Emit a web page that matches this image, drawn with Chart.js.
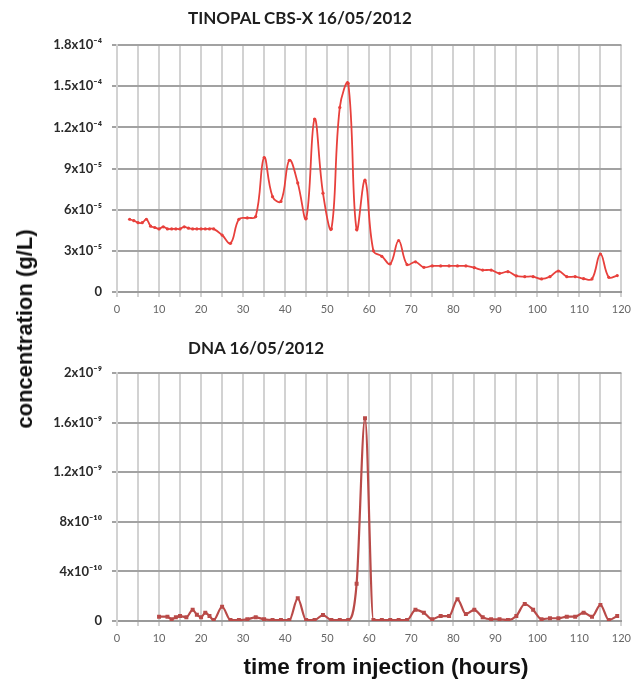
<!DOCTYPE html>
<html><head><meta charset="utf-8">
<script src="https://cdn.jsdelivr.net/npm/chart.js@4.4.1/dist/chart.umd.min.js"></script>
<style>
html,body{margin:0;padding:0;background:#fff;}
#wrap{position:relative;width:637px;height:686px;overflow:hidden;font-family:Lato,"Open Sans",sans-serif;}
canvas{position:absolute;left:0;}
.t{position:absolute;font-weight:bold;color:#1e1e1e;white-space:nowrap;line-height:1;}
.ax{font-family:"Liberation Sans",Arial,sans-serif;color:#111;}
</style></head><body>
<div id="wrap">
<canvas id="c1" width="637" height="330" style="top:0;width:637px;height:330px"></canvas>
<canvas id="c2" width="637" height="356" style="top:330px;width:637px;height:356px"></canvas>
<div class="t" style="left:188px;top:9px;font-size:17px">TINOPAL CBS-X 16/05/2012</div>
<div class="t" style="left:188px;top:339px;font-size:17px">DNA 16/05/2012</div>
<div class="t ax" style="font-size:22px;left:25px;top:329px;transform:translate(-50%,-50%) rotate(-90deg);">concentration (g/L)</div>
<div class="t ax" style="font-size:22.5px;left:386px;top:667px;transform:translate(-50%,-50%);">time from injection (hours)</div>
</div>
<script>
// time from injection (hours)
const tinopalHours = [3,4,5,6,7,8,9,10,11,12,13,14,15,16,17,18,19,20,21,22,23,
  25,27,29,31,33,35,37,39,41,43,45,47,49,51,53,55,57,59,61,63,65,67,69,71,73,75,77,79,
  81,83,85,87,89,91,93,95,97,99,101,103,105,107,109,111,113,115,117,119];
// TINOPAL CBS-X concentration, in units of 1e-5 g/L
const tinopalConc = [5.3,5.2,5.05,5.05,5.3,4.8,4.7,4.6,4.75,4.6,4.6,4.6,4.6,4.75,4.65,4.6,4.6,4.6,4.6,4.6,4.6,
  4.15,3.55,5.3,5.4,5.5,9.8,6.95,6.6,9.6,7.95,5.35,12.6,7.2,4.6,13.45,15.2,4.55,8.15,3.0,2.6,2.05,3.75,2.0,2.2,1.8,1.9,1.9,1.9,
  1.9,1.9,1.77,1.6,1.6,1.36,1.48,1.17,1.12,1.12,0.95,1.12,1.53,1.12,1.12,0.97,0.95,2.77,1.07,1.2];

const dnaHours = [10,12,13,14,15,16.5,18,19,20,21,22,23,
  25,27,29,31,33,35,37,39,41,43,45,47,49,51,53,55,57,59,61,63,65,67,69,71,73,75,77,79,
  81,83,85,87,89,91,93,95,97,99,101,103,105,107,109,111,113,115,117,119];
// DNA concentration, in units of 1e-10 g/L
const dnaConc = [0.35,0.35,0.14,0.3,0.4,0.3,0.9,0.5,0.3,0.67,0.4,0.08,
  1.15,0.08,0.08,0.14,0.3,0.14,0.08,0.08,0.08,1.83,0.08,0.08,0.48,0.08,0.08,0.08,3.0,16.35,0.08,0.08,0.08,0.08,0.08,0.9,0.67,0.14,0.4,0.4,
  1.75,0.56,0.9,0.3,0.14,0.14,0.08,0.4,1.37,0.9,0.14,0.22,0.22,0.35,0.35,0.67,0.35,1.3,0.08,0.4];

const xTickLabels = ['0','10','20','30','40','50','60','70','80','90','100','110','120'];
const tinopalYTicks = ['0','3x10\u207B\u2075','6x10\u207B\u2075','9x10\u207B\u2075','1.2x10\u207B\u2074','1.5x10\u207B\u2074','1.8x10\u207B\u2074'];
const dnaYTicks = ['0','4x10\u207B\u00B9\u2070','8x10\u207B\u00B9\u2070','1.2x10\u207B\u2079','1.6x10\u207B\u2079','2x10\u207B\u2079'];

function makeChart(id, xs, ys, cfg) {
  const data = xs.map((x, i) => ({x: x, y: ys[i]}));
  return new Chart(document.getElementById(id), {
    type: 'line',
    data: {datasets: [Object.assign({data: data}, cfg.ds)]},
    options: {
      responsive: false, animation: false, devicePixelRatio: 1,
      layout: {padding: {top: cfg.padTop, right: 11, left: 0, bottom: 0}},
      plugins: {legend: {display: false}, tooltip: {enabled: false}, title: {display: false}},
      scales: {
        x: {
          type: 'linear', min: 0, max: 120,
          afterFit: s => { s.height = cfg.xHeight; },
          ticks: {stepSize: 5, autoSkip: false, maxRotation: 0, padding: 6, color: '#666',
            font: {family: 'Lato', size: 11},
            callback: v => (v % 10 === 0 ? xTickLabels[v / 10] : '')},
          grid: {color: '#d2d2d2', lineWidth: 2, tickLength: 5},
          border: {color: '#9a9a9a', width: 2}
        },
        y: {
          min: 0, max: cfg.yMax,
          afterFit: s => { s.width = 117; },
          ticks: {stepSize: cfg.yStep, padding: 10, color: '#2a2a2a',
            font: {family: 'Lato', size: 13, weight: 'bold'},
            callback: v => cfg.yLabels[Math.round(v / cfg.yStep)]},
          grid: {color: '#a2a2a2', lineWidth: 2, tickLength: 5},
          border: {color: '#d2d2d2', width: 2}
        }
      }
    }
  });
}

makeChart('c1', tinopalHours, tinopalConc, {
  padTop: 45, xHeight: 38, yMax: 18, yStep: 3, yLabels: tinopalYTicks,
  ds: {borderColor: '#e8403c', backgroundColor: '#e8403c', borderWidth: 1.8,
       pointRadius: 1.6, pointBackgroundColor: '#e8403c', pointBorderWidth: 0, tension: 0.4}
});
makeChart('c2', dnaHours, dnaConc, {
  padTop: 43, xHeight: 65, yMax: 20, yStep: 4, yLabels: dnaYTicks,
  ds: {borderColor: '#b94a48', backgroundColor: '#b94a48', borderWidth: 2.2,
       pointStyle: 'rect', pointRadius: 2.8, pointBackgroundColor: '#b94a48', pointBorderWidth: 0,
       cubicInterpolationMode: 'monotone'}
});
</script>
</body></html>
